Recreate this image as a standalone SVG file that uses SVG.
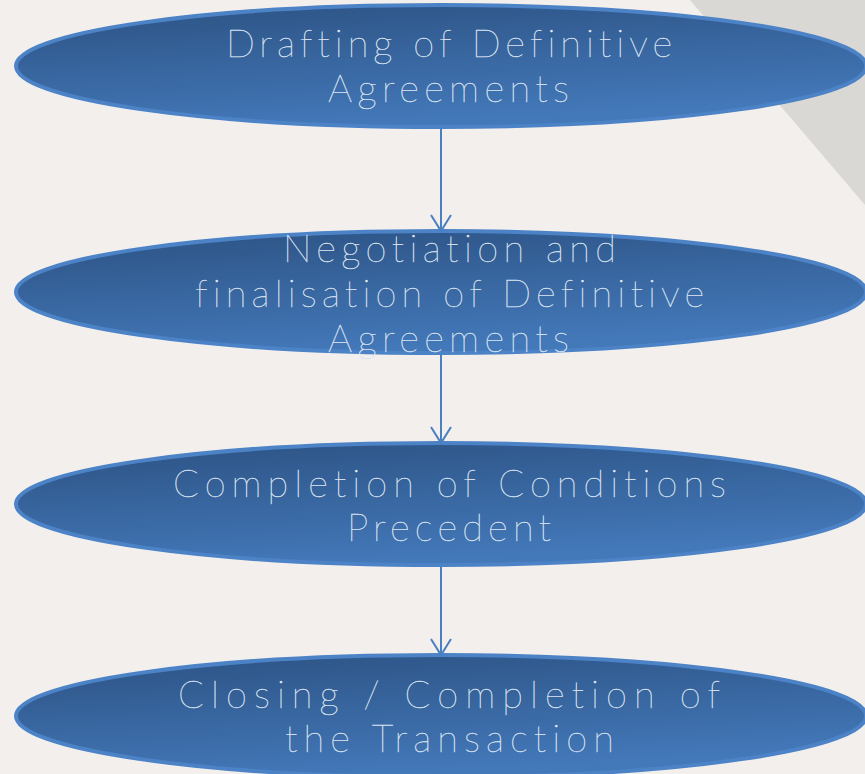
<svg xmlns="http://www.w3.org/2000/svg" width="865" height="774" viewBox="0 0 865 774">
<defs>
<linearGradient id="g" x1="0" y1="0" x2="0.35" y2="1">
<stop offset="0" stop-color="#2c5283"/>
<stop offset="1" stop-color="#4378b9"/>
</linearGradient>
<marker id="arr" markerWidth="20" markerHeight="24" refX="17" refY="11" orient="auto" markerUnits="userSpaceOnUse" viewBox="0 0 20 22">
<path d="M1,1 L17,11 L1,21" fill="none" stroke="#4a80c2" stroke-width="2"/>
</marker>
<style>
.n ellipse{fill:url(#g);stroke:#4c82c6;stroke-width:4}
.n text{font-family:"Lato","Open Sans","DejaVu Sans",sans-serif;font-weight:100;font-size:38px;fill:#f2f6fb;stroke:#d8e2ee;stroke-width:0.35;font-variant-ligatures:none}
.c line{stroke:#4a80c2;stroke-width:2}
</style>
</defs>
<rect width="865" height="774" fill="#f3efed"/>
<polygon points="690,0 865,0 865,205" fill="#d9d8d4"/>
<g id="n1" class="n">
<ellipse cx="441" cy="66" rx="425" ry="61"/>
<text x="226" y="57" textLength="446" lengthAdjust="spacing">Drafting of Definitive</text>
<text x="328" y="102" textLength="241" lengthAdjust="spacing">Agreements</text>
</g>
<g id="n2" class="n">
<ellipse cx="441" cy="292" rx="425" ry="61"/>
<text x="283" y="262" textLength="333" lengthAdjust="spacing">Negotiation and</text>
<text x="195" y="307" textLength="509" lengthAdjust="spacing">finalisation of Definitive</text>
<text x="328" y="352" textLength="241" lengthAdjust="spacing">Agreements</text>
</g>
<g id="n3" class="n">
<ellipse cx="441" cy="504" rx="425" ry="61"/>
<text x="173" y="497" textLength="553" lengthAdjust="spacing">Completion of Conditions</text>
<text x="347" y="541" textLength="204" lengthAdjust="spacing">Precedent</text>
</g>
<g id="n4" class="n">
<ellipse cx="441" cy="716" rx="425" ry="61"/>
<text x="178" y="708" textLength="542" lengthAdjust="spacing">Closing / Completion of</text>
<text x="285" y="752" textLength="329" lengthAdjust="spacing">the Transaction</text>
</g>
<g id="connectors" class="c">
<line x1="441" y1="128" x2="441" y2="231" marker-end="url(#arr)"/>
<line x1="441" y1="354" x2="441" y2="443" marker-end="url(#arr)"/>
<line x1="441" y1="566" x2="441" y2="655" marker-end="url(#arr)"/>
</g>
</svg>
